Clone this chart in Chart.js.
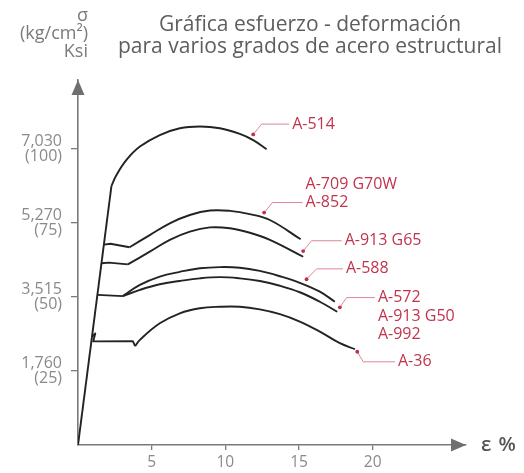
<!DOCTYPE html>
<html><head><meta charset="utf-8">
<script src="https://cdn.jsdelivr.net/npm/chart.js@4/dist/chart.umd.min.js"></script>
<style>
html,body{margin:0;padding:0;background:#fff;}
#wrap{position:relative;width:524px;height:473px;overflow:hidden;font-family:'Open Sans',sans-serif;}
#c{position:absolute;left:0;top:0;width:524px;height:473px;}
#title{position:absolute;left:90px;width:440px;top:12px;text-align:center;font-size:21px;line-height:22px;color:#5e5e5e;}
#ylab{position:absolute;left:0;width:88px;top:5px;text-align:right;font-size:18px;line-height:18px;color:#7a7a7a;}
#xlab{position:absolute;left:481px;top:432px;font-size:20px;line-height:24px;font-weight:600;color:#555;word-spacing:2px;}
</style></head>
<body><div id="wrap">
<canvas id="c" width="524" height="473"></canvas>
<div id="title">Gráfica esfuerzo - deformación<br>para varios grados de acero estructural</div>
<div id="ylab">σ<br>(kg/cm²)<br>Ksi</div>
<div id="xlab">ε %</div>
</div>
<script>
// ---- tick labels ----
const xTicks = [5, 10, 15, 20];
const yTicksKsi = [25, 50, 75, 100];
const yTicksKg = ['1,760', '3,515', '5,270', '7,030'];
const xMax = 26.33, yMax = 123.3;

// ---- series (strain %, stress ksi) ----
const elasticStrain = [0, 2.27];
const elasticStress = [0, 87.5];

const a514Strain = [2.27, 2.61, 3.29, 4.20, 5.55, 6.91, 8.27, 9.63, 10.98, 11.89, 12.80];
const a514Stress = [87.5, 91.2, 96.3, 100.8, 104.7, 107.0, 107.6, 107.0, 105.1, 103.0, 99.9];

const a709PlateauStrain = [1.76, 2.2, 3.50];
const a709PlateauStress = [67.7, 68.0, 66.8];
const a709Strain = [3.50, 4.87, 6.23, 7.59, 8.95, 10.31, 11.66, 13.02, 15.11];
const a709Stress = [66.8, 70.9, 74.9, 77.7, 79.2, 79.1, 78.0, 76.0, 69.5];

const a913PlateauStrain = [1.59, 2.1, 3.38];
const a913PlateauStress = [61.4, 61.6, 61.0];
const a913Strain = [3.38, 4.87, 6.23, 7.59, 8.95, 10.31, 11.66, 13.02, 15.28];
const a913Stress = [61.0, 65.3, 69.3, 72.1, 73.5, 73.2, 71.7, 69.3, 63.6];

const a588PlateauStrain = [1.32, 3.04];
const a588PlateauStress = [50.7, 50.3];
const a588Strain = [3.04, 4.20, 5.55, 6.91, 8.27, 9.63, 10.98, 12.34, 13.70, 15.05, 16.41, 17.43];
const a588Stress = [50.3, 54.1, 56.9, 58.5, 59.7, 60.1, 59.9, 58.8, 57.0, 54.8, 51.8, 48.4];

const a572Strain = [3.04, 4.20, 5.55, 6.91, 8.27, 9.63, 10.98, 12.34, 13.70, 15.05, 16.41, 17.59];
const a572Stress = [50.3, 52.4, 54.3, 55.4, 56.3, 56.7, 56.3, 55.4, 53.8, 51.6, 48.4, 45.0];

const a36YieldStrain = [0.95, 1.17, 1.03, 3.72, 3.88];
const a36YieldStress = [36.6, 37.7, 35.0, 35.1, 33.4];
const a36Strain = [3.88, 4.20, 5.55, 6.91, 8.27, 9.63, 10.98, 12.34, 13.70, 15.05, 16.41, 17.77, 18.79];
const a36Stress = [33.4, 35.5, 41.1, 44.5, 46.2, 46.7, 46.7, 45.8, 44.2, 41.7, 38.3, 34.4, 32.4];

// ---- callout labels (anchors in data units) ----
const callouts = [
  {lines: ['A-514'], anchor: 0, dot: [11.89, 104.9], elbow: [12.46, 108.4], end: [14.33, 108.4]},
  {lines: ['A-709 G70W', 'A-852'], anchor: 1, dot: [12.63, 78.5], elbow: [13.20, 81.9], end: [15.24, 81.9]},
  {lines: ['A-913 G65'], anchor: 0, dot: [15.28, 65.5], elbow: [15.85, 69.0], end: [17.89, 69.0]},
  {lines: ['A-588'], anchor: 0, dot: [15.51, 56.0], elbow: [16.19, 59.5], end: [17.98, 59.5]},
  {lines: ['A-572', 'A-913 G50', 'A-992'], anchor: 0, dot: [17.77, 46.5], elbow: [18.23, 49.8], end: [20.15, 49.8]},
  {lines: ['A-36'], anchor: 0, dot: [18.95, 31.5], elbow: [19.36, 28.1], end: [21.51, 28.1]}
];

const pts = (xs, ys) => xs.map((x, i) => ({x: x, y: ys[i]}));
const LINE = '#232323';
function ds(label, xs, ys, smooth) {
  return {label: label, data: pts(xs, ys), showLine: true, pointRadius: 0, borderColor: LINE,
    borderWidth: 1.9, fill: false, tension: smooth ? 0.4 : 0, borderJoinStyle: 'round'};
}

const calloutPlugin = {
  id: 'callouts',
  afterDatasetsDraw(chart) {
    const ctx = chart.ctx, xs = chart.scales.x, ys = chart.scales.y;
    ctx.save();
    callouts.forEach(c => {
      const p = a => [xs.getPixelForValue(a[0]), ys.getPixelForValue(a[1])];
      const d = p(c.dot), e = p(c.elbow), n = p(c.end);
      ctx.strokeStyle = '#dc8797'; ctx.lineWidth = 1;
      ctx.beginPath(); ctx.moveTo(d[0], d[1]); ctx.lineTo(e[0], e[1]); ctx.lineTo(n[0], n[1]); ctx.stroke();
      ctx.fillStyle = '#c0304a';
      ctx.beginPath(); ctx.arc(d[0], d[1], 1.9, 0, Math.PI * 2); ctx.fill();
      ctx.fillStyle = '#c2344e';
      ctx.font = '16px "Open Sans"';
      ctx.textAlign = 'left'; ctx.textBaseline = 'middle';
      c.lines.forEach((t, i) => ctx.fillText(t, n[0] + 3, n[1] + (i - c.anchor) * 18.5));
    });
    ctx.restore();
  },
  afterDraw(chart) {
    const ctx = chart.ctx, a = chart.chartArea;
    ctx.save();
    ctx.fillStyle = '#6f6f6f';
    ctx.beginPath(); ctx.moveTo(a.left, a.top); ctx.lineTo(a.left - 6.5, a.top + 15); ctx.lineTo(a.left + 6.5, a.top + 15); ctx.closePath(); ctx.fill();
    ctx.beginPath(); ctx.moveTo(a.right, a.bottom); ctx.lineTo(a.right - 15, a.bottom - 6.5); ctx.lineTo(a.right - 15, a.bottom + 6.5); ctx.closePath(); ctx.fill();
    ctx.restore();
  }
};

new Chart(document.getElementById('c'), {
  type: 'scatter',
  data: {datasets: [
    ds('Elástico', elasticStrain, elasticStress, false),
    ds('A-514', a514Strain, a514Stress, true),
    ds('A-709 G70W / A-852 fluencia', a709PlateauStrain, a709PlateauStress, false),
    ds('A-709 G70W / A-852', a709Strain, a709Stress, true),
    ds('A-913 G65 fluencia', a913PlateauStrain, a913PlateauStress, false),
    ds('A-913 G65', a913Strain, a913Stress, true),
    ds('A-588 / A-572 fluencia', a588PlateauStrain, a588PlateauStress, false),
    ds('A-588', a588Strain, a588Stress, true),
    ds('A-572 / A-913 G50 / A-992', a572Strain, a572Stress, true),
    ds('A-36 fluencia', a36YieldStrain, a36YieldStress, false),
    ds('A-36', a36Strain, a36Stress, true)
  ]},
  options: {
    responsive: false, animation: false,
    layout: {padding: {top: 80, right: 58, bottom: 0, left: 0}},
    plugins: {legend: {display: false}, tooltip: {enabled: false}, title: {display: false}},
    scales: {
      x: {
        type: 'linear', min: 0, max: xMax,
        afterBuildTicks: s => { s.ticks = xTicks.map(v => ({value: v})); },
        afterFit: s => { s.height = 28; },
        border: {display: true, color: '#7a7a7a', width: 1.6},
        grid: {display: true, drawOnChartArea: false, drawTicks: true, tickLength: 5, color: '#7a7a7a', lineWidth: 1.3},
        ticks: {color: '#8a8a8a', padding: 3, font: {family: 'Open Sans', size: 15.5}, maxRotation: 0,
          callback: v => String(v)}
      },
      y: {
        type: 'linear', min: 0, max: yMax,
        afterBuildTicks: s => { s.ticks = yTicksKsi.map(v => ({value: v})); },
        afterFit: s => { s.width = 78; },
        border: {display: true, color: '#7a7a7a', width: 1.6},
        grid: {display: true, drawOnChartArea: false, drawTicks: true, tickLength: 7, color: '#7a7a7a', lineWidth: 1.3},
        ticks: {color: '#8a8a8a', padding: 9, font: {family: 'Open Sans', size: 16, lineHeight: 0.9},
          callback: v => { const i = yTicksKsi.indexOf(v); return i < 0 ? '' : [yTicksKg[i], '(' + v + ')']; }}
      }
    }
  },
  plugins: [calloutPlugin]
});
</script>
</body></html>
